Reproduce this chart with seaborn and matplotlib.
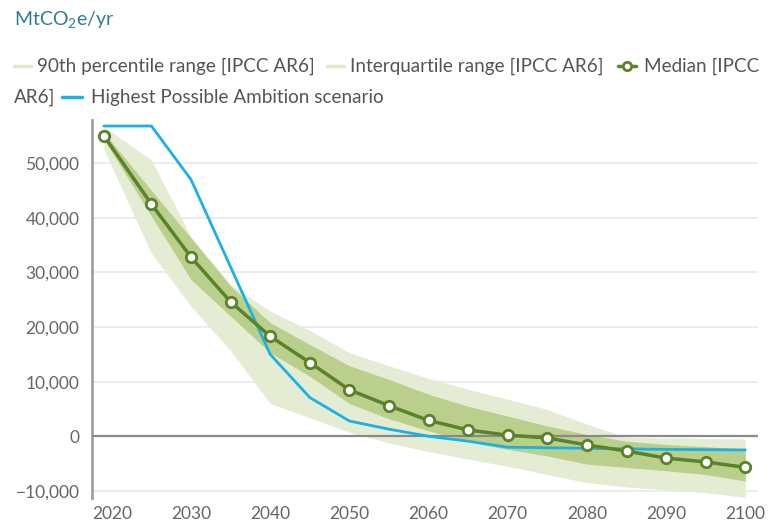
import numpy as np
import pandas as pd
import matplotlib
matplotlib.use("Agg")
import matplotlib.pyplot as plt
from matplotlib.lines import Line2D
from matplotlib.ticker import FuncFormatter
import seaborn as sns

# values, MtCO2e/yr
years = [2019, 2025, 2030, 2035, 2040, 2045, 2050, 2055, 2060,
         2065, 2070, 2075, 2080, 2085, 2090, 2095, 2100]
median = [55000, 42500, 32800, 24600, 18300, 13500, 8500, 5600, 2900,
          1150, 200, -300, -1600, -2700, -4000, -4700, -5700]
p90_hi = [56700, 50600, 36500, 27800, 22900, 19400, 15300, 12900, 10600,
          8600, 6800, 4900, 2200, -200, -300, -400, -500]
p90_lo = [52500, 33500, 23800, 15700, 6000, 3400, 700, -1200, -2800,
          -4200, -5500, -7000, -8500, -9300, -9800, -10300, -11200]
iqr_hi = [55600, 45000, 36300, 27500, 20800, 16800, 12900, 10400, 7700,
          5500, 3700, 1900, 300, -900, -1500, -1900, -2400]
iqr_lo = [54400, 40300, 28700, 22000, 15300, 11000, 6000, 3200, 1000,
          -1000, -2400, -3600, -5100, -5700, -6300, -7000, -8200]
hpa = [56800, 56800, 47000, 31000, 15000, 7100, 2800, 1300, 0,
       -900, -2000, -2100, -2200, -2300, -2400, -2450, -2500]

df = pd.DataFrame({"year": years, "median": median, "p90_hi": p90_hi,
                   "p90_lo": p90_lo, "iqr_hi": iqr_hi, "iqr_lo": iqr_lo,
                   "hpa": hpa})

sns.set_theme(style="white")
plt.rcParams["font.family"] = ["Lato", "DejaVu Sans"]
plt.rcParams["mathtext.fontset"] = "custom"
plt.rcParams["mathtext.rm"] = "Lato"
plt.rcParams["mathtext.it"] = "Lato"

light = "#e4ecd3"
dark = "#b9cf8b"
green = "#5b812b"
blue = "#1cb1e2"
txt = "#555555"

W, H = 769, 529
fig = plt.figure(figsize=(W / 100, H / 100), dpi=100)
ax = fig.add_axes([92 / W, 1 - 498 / H, (758 - 92) / W, (498 - 120) / H])

ax.fill_between(df["year"], df["p90_lo"], df["p90_hi"], color=light, lw=0, zorder=1)
ax.fill_between(df["year"], df["iqr_lo"], df["iqr_hi"], color=dark, lw=0, zorder=2)
sns.lineplot(data=df, x="year", y="hpa", color=blue, lw=2, ax=ax, zorder=4)
sns.lineplot(data=df, x="year", y="median", color=green, lw=2.5, marker="o",
             markersize=7.5, markerfacecolor="white", markeredgecolor=green,
             markeredgewidth=2, ax=ax, zorder=5)

ax.set_xlim(2017.5, 2101.6)
ax.set_ylim(-11300, 57900)
ax.set_xticks(range(2020, 2101, 10))
ax.set_yticks(range(-10000, 50001, 10000))
ax.yaxis.set_major_formatter(FuncFormatter(
    lambda v, p: f"{v:,.0f}".replace("-", "\u2212")))
ax.set_xlabel("")
ax.set_ylabel("")

for v in range(-10000, 50001, 10000):
    if v == 0:
        ax.axhline(0, color="#8a8a8a", lw=1.6, zorder=3)
    else:
        ax.axhline(v, color="#ebebeb", lw=1.3, zorder=0)

for s in ["top", "right", "bottom"]:
    ax.spines[s].set_visible(False)
ax.spines["left"].set_color("#a0a0a0")
ax.spines["left"].set_linewidth(2)
ax.tick_params(axis="both", length=0, labelsize=12.5, labelcolor="#666666")
ax.tick_params(axis="y", pad=9)
ax.tick_params(axis="x", pad=6)

# title / unit
fig.text(14 / W, 1 - 19 / H, "MtCO$_2$e/yr", color="#2e7d8f", fontsize=14,
         va="center", ha="left")

# legend drawn as html-like wrapped row
def fy(y):
    return 1 - y / H

def handle(x0, x1, y, color, marker=False):
    fig.add_artist(Line2D([x0 / W, x1 / W], [fy(y), fy(y)], color=color, lw=2.5,
                          transform=fig.transFigure))
    if marker:
        fig.add_artist(Line2D([(x0 + x1) / 2 / W], [fy(y)], color=green, marker="o",
                              markersize=6, markerfacecolor="white",
                              markeredgewidth=2, transform=fig.transFigure))

lk = dict(fontsize=13.6, color=txt, va="center", ha="left")
handle(14, 31, 66, "#dfe8cc")
fig.text(37 / W, fy(66), "90th percentile range [IPCC AR6]", **lk)
handle(327, 344, 66, "#dfe8cc")
fig.text(350 / W, fy(66), "Interquartile range [IPCC AR6]", **lk)
handle(618, 636, 66, green, marker=True)
fig.text(644 / W, fy(66), "Median [IPCC", **lk)
fig.text(14 / W, fy(97), "AR6]", **lk)
handle(62, 82, 97, blue)
fig.text(91 / W, fy(97), "Highest Possible Ambition scenario", **lk)

fig.savefig("out.png", dpi=100, facecolor="white")
